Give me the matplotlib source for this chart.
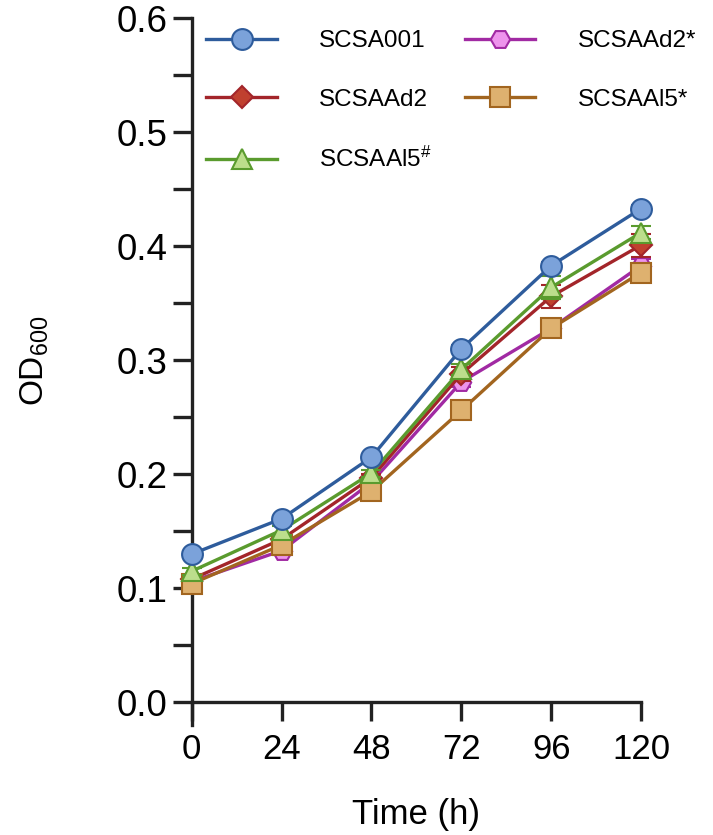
import numpy as np
import matplotlib.pyplot as plt

plt.rcParams['font.family'] = ['Liberation Sans', 'DejaVu Sans']
plt.rcParams['mathtext.default'] = 'regular'

# sampling times (h)
time = [0, 24, 48, 72, 96, 120]

# OD600 means
scsa001 = [0.130, 0.161, 0.215, 0.310, 0.383, 0.433]
scsaad2 = [0.108, 0.143, 0.197, 0.288, 0.356, 0.401]
scsaal5_h = [0.115, 0.151, 0.201, 0.292, 0.364, 0.412]
scsaad2_s = [0.106, 0.133, 0.193, 0.281, 0.328, 0.383]
scsaal5_s = [0.104, 0.138, 0.185, 0.256, 0.328, 0.377]

# error bars (SD)
err001 = [0.002, 0.002, 0.002, 0.003, 0.003, 0.003]
err_ad2 = [0.003, 0.004, 0.003, 0.006, 0.010, 0.010]
err_al5h = [0.003, 0.004, 0.003, 0.005, 0.010, 0.006]
err_ad2s = [0.003, 0.004, 0.003, 0.004, 0.004, 0.006]
err_al5s = [0.003, 0.004, 0.003, 0.003, 0.006, 0.008]

labels = ['SCSA001', 'SCSAAd2', 'SCSAAl5$^{\\#}$', 'SCSAAd2*', 'SCSAAl5*']

fig = plt.figure(figsize=(7.13, 8.35), dpi=100)
ax = fig.add_axes([0.269, 0.159, 0.630, 0.819])

# (values, errors, line colour, face colour, marker, size, zorder)
series = [
    (scsa001, err001, '#2e5c9c', '#7ba2da', 'o', 15, 10),
    (scsaad2, err_ad2, '#a3252a', '#c0402f', 'D', 11, 6),
    (scsaal5_h, err_al5h, '#5a9b2e', '#bcde8c', '^', 15, 8),
    (scsaad2_s, err_ad2s, '#a12aa3', '#ee94ec', 'H', 14, 5),
    (scsaal5_s, err_al5s, '#a2651f', '#deb16f', 's', 15, 7),
]

handles = []
for (y, e, lc, fc, m, ms, z), lab in zip(series, labels):
    eb = ax.errorbar(time, y, yerr=e, color=lc, lw=2.4, marker=m, ms=ms,
                     mfc=fc, mec=lc, mew=1.5, capsize=7, capthick=2.4,
                     elinewidth=2.4, label=lab, zorder=z)
    handles.append(eb[0])

ax.set_xlim(0, 120)
ax.set_ylim(0, 0.6)
ax.set_xticks(time)
ax.set_yticks(np.arange(0, 0.61, 0.1))
ax.set_yticks(np.arange(0.05, 0.6, 0.1), minor=True)
ax.yaxis.set_major_formatter(plt.FormatStrFormatter('%.1f'))

for s in ['top', 'right']:
    ax.spines[s].set_visible(False)
for s in ['left', 'bottom']:
    ax.spines[s].set_linewidth(2.4)
    ax.spines[s].set_color('#222222')
ax.spines['left'].set_bounds(-0.02, 0.6)

ax.tick_params(axis='both', which='both', length=13.5, width=2.4, color='#222222')
ax.tick_params(axis='y', labelsize=26.5, pad=4)
ax.tick_params(axis='x', labelsize=25, pad=9)

ax.set_xlabel('Time (h)', fontsize=25, labelpad=23)
ax.set_ylabel('OD$_{600}$', fontsize=24, labelpad=47)

for c in ax.get_children():
    if hasattr(c, 'set_clip_on') and not isinstance(c, plt.Text):
        c.set_clip_on(False)

ax.legend(handles=handles, labels=labels, ncol=2, frameon=False, fontsize=17.5,
          loc='upper left', bbox_to_anchor=(0.0, 1.004), handlelength=2.9,
          handletextpad=1.75, columnspacing=1.35, labelspacing=1.5,
          borderaxespad=0.2)

fig.savefig('out.png', dpi=100)
